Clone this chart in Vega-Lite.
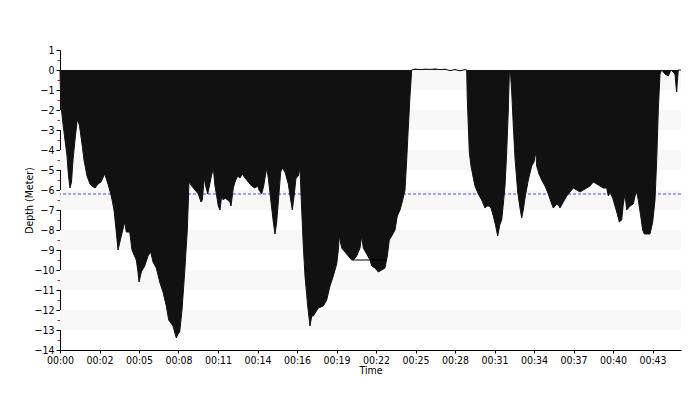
{
  "$schema": "https://vega.github.io/schema/vega-lite/v6.json",
  "width": 621,
  "height": 300,
  "autosize": {"type": "none"},
  "padding": {"left": 60, "top": 50, "right": 19, "bottom": 50},
  "background": "white",
  "config": {
    "view": {"stroke": null},
    "font": "DejaVu Sans Condensed",
    "axis": {
      "labelFont": "DejaVu Sans Condensed",
      "titleFont": "DejaVu Sans Condensed",
      "labelFontSize": 10.5,
      "titleFontSize": 10.5,
      "titleFontWeight": "normal",
      "labelColor": "#000",
      "titleColor": "#000",
      "grid": false
    }
  },
  "datasets": {
    "bands": [
      {"top": 0, "bottom": -1}, {"top": -2, "bottom": -3}, {"top": -4, "bottom": -5},
      {"top": -6, "bottom": -7}, {"top": -8, "bottom": -9}, {"top": -10, "bottom": -11},
      {"top": -12, "bottom": -13}
    ],
    "ceiling": [{"depth": -6.2}],
    "flat": [{"t": 293, "depth": -9.5}, {"t": 327, "depth": -9.5}],
    "profile": [
      {"t": 0, "depth": 0}, {"t": 0.5, "depth": -1.2}, {"t": 1.5, "depth": -2.0}, {"t": 3, "depth": -2.7},
      {"t": 5, "depth": -3.5}, {"t": 7, "depth": -4.3}, {"t": 8.5, "depth": -5.3}, {"t": 10, "depth": -5.9},
      {"t": 11.5, "depth": -5.6}, {"t": 13, "depth": -4.5}, {"t": 15, "depth": -3.5}, {"t": 17, "depth": -2.6},
      {"t": 18, "depth": -2.5}, {"t": 19.5, "depth": -2.8}, {"t": 22, "depth": -3.7}, {"t": 24, "depth": -4.5},
      {"t": 27, "depth": -5.3}, {"t": 30, "depth": -5.7}, {"t": 32, "depth": -5.8}, {"t": 35, "depth": -5.9},
      {"t": 38, "depth": -5.7}, {"t": 41, "depth": -5.6}, {"t": 44.7, "depth": -5.2}, {"t": 48, "depth": -5.7},
      {"t": 51.3, "depth": -6.3}, {"t": 54, "depth": -7.0}, {"t": 56.3, "depth": -8.1}, {"t": 58, "depth": -9.0},
      {"t": 61.3, "depth": -8.3}, {"t": 64.7, "depth": -7.6}, {"t": 66.3, "depth": -8.1}, {"t": 69.7, "depth": -8.1},
      {"t": 72, "depth": -9.0}, {"t": 76.3, "depth": -9.5}, {"t": 78, "depth": -10.1}, {"t": 79, "depth": -10.6},
      {"t": 81.3, "depth": -10.1}, {"t": 84.7, "depth": -9.8}, {"t": 88, "depth": -9.3}, {"t": 90.7, "depth": -9.1},
      {"t": 93, "depth": -9.6}, {"t": 96.3, "depth": -9.9}, {"t": 99.7, "depth": -10.6}, {"t": 103, "depth": -11.1},
      {"t": 106.3, "depth": -11.8}, {"t": 108.7, "depth": -12.5}, {"t": 113, "depth": -12.8}, {"t": 116.3, "depth": -13.4},
      {"t": 118, "depth": -13.2}, {"t": 119.7, "depth": -13.1}, {"t": 122, "depth": -12.0}, {"t": 124.7, "depth": -10.1},
      {"t": 127.3, "depth": -8.0}, {"t": 129, "depth": -5.6}, {"t": 131.7, "depth": -5.8}, {"t": 135, "depth": -6.0},
      {"t": 138.3, "depth": -6.2}, {"t": 141, "depth": -6.6}, {"t": 142.3, "depth": -6.5}, {"t": 144.3, "depth": -5.4},
      {"t": 145.7, "depth": -5.8}, {"t": 147.7, "depth": -6.2}, {"t": 149, "depth": -5.9}, {"t": 151, "depth": -5.4},
      {"t": 153.3, "depth": -4.9}, {"t": 155, "depth": -5.8}, {"t": 156.7, "depth": -6.3}, {"t": 158.3, "depth": -6.8},
      {"t": 160, "depth": -7.0}, {"t": 161.7, "depth": -6.3}, {"t": 163.3, "depth": -6.5}, {"t": 165, "depth": -6.4},
      {"t": 167.7, "depth": -6.5}, {"t": 170, "depth": -6.6}, {"t": 171, "depth": -6.8}, {"t": 173.3, "depth": -5.9},
      {"t": 175, "depth": -5.6}, {"t": 177.7, "depth": -5.3}, {"t": 180, "depth": -5.4}, {"t": 182.3, "depth": -5.2},
      {"t": 185, "depth": -5.4}, {"t": 188.3, "depth": -5.6}, {"t": 191.7, "depth": -5.8}, {"t": 195, "depth": -5.9},
      {"t": 197.7, "depth": -5.8}, {"t": 199, "depth": -6.0}, {"t": 201.7, "depth": -6.2}, {"t": 203.7, "depth": -5.8},
      {"t": 205, "depth": -5.4}, {"t": 206.7, "depth": -4.9}, {"t": 208.3, "depth": -5.4}, {"t": 211, "depth": -6.6},
      {"t": 213.3, "depth": -7.6}, {"t": 215, "depth": -8.2}, {"t": 216.7, "depth": -7.6}, {"t": 218.3, "depth": -6.6},
      {"t": 220.7, "depth": -5.1}, {"t": 222.3, "depth": -4.9}, {"t": 225, "depth": -5.1}, {"t": 228.3, "depth": -5.7},
      {"t": 231, "depth": -6.6}, {"t": 232.3, "depth": -7.0}, {"t": 234.3, "depth": -6.2}, {"t": 236, "depth": -5.4},
      {"t": 238.3, "depth": -5.3}, {"t": 240, "depth": -4.9}, {"t": 241.7, "depth": -7.0}, {"t": 243.3, "depth": -8.8},
      {"t": 245, "depth": -10.3}, {"t": 247.7, "depth": -11.8}, {"t": 250, "depth": -12.8}, {"t": 251.7, "depth": -12.3},
      {"t": 253.3, "depth": -12.3}, {"t": 258.3, "depth": -11.9}, {"t": 263.3, "depth": -11.8}, {"t": 266.7, "depth": -11.5},
      {"t": 270, "depth": -10.8}, {"t": 273.3, "depth": -10.3}, {"t": 276.7, "depth": -9.7}, {"t": 278.3, "depth": -9.0},
      {"t": 279.3, "depth": -8.3}, {"t": 281.7, "depth": -8.9}, {"t": 285, "depth": -9.1}, {"t": 288.3, "depth": -9.3},
      {"t": 291.7, "depth": -9.5}, {"t": 293.3, "depth": -9.5}, {"t": 296.7, "depth": -9.3}, {"t": 300, "depth": -8.9},
      {"t": 301.7, "depth": -8.3}, {"t": 303.3, "depth": -8.9}, {"t": 306.7, "depth": -9.2}, {"t": 310, "depth": -9.5},
      {"t": 311.7, "depth": -9.8}, {"t": 315, "depth": -9.9}, {"t": 318.3, "depth": -10.1}, {"t": 321.7, "depth": -10.0},
      {"t": 325, "depth": -9.9}, {"t": 327.3, "depth": -9.3}, {"t": 329.3, "depth": -8.5}, {"t": 331.7, "depth": -8.3},
      {"t": 335, "depth": -8.0}, {"t": 337.3, "depth": -7.3}, {"t": 340, "depth": -7.0}, {"t": 342.7, "depth": -6.5},
      {"t": 345, "depth": -6.0}, {"t": 346.7, "depth": -4.5}, {"t": 348.3, "depth": -2.9}, {"t": 350, "depth": -1.3},
      {"t": 351.7, "depth": 0}, {"t": 355, "depth": 0.05}, {"t": 360, "depth": 0.02}, {"t": 365, "depth": 0.04},
      {"t": 370, "depth": 0.03}, {"t": 375, "depth": 0.05}, {"t": 380, "depth": 0.02}, {"t": 385, "depth": 0.04},
      {"t": 390, "depth": -0.03}, {"t": 395, "depth": 0.02}, {"t": 400, "depth": -0.04}, {"t": 405, "depth": 0.02},
      {"t": 406.7, "depth": 0}, {"t": 407.3, "depth": -1.5}, {"t": 408, "depth": -2.4}, {"t": 409.3, "depth": -4.1},
      {"t": 411, "depth": -4.8}, {"t": 413.3, "depth": -5.4}, {"t": 415, "depth": -5.8}, {"t": 418.3, "depth": -6.2},
      {"t": 421.7, "depth": -6.5}, {"t": 425, "depth": -6.9}, {"t": 427, "depth": -6.8}, {"t": 429, "depth": -6.8},
      {"t": 431, "depth": -6.9}, {"t": 433.3, "depth": -7.3}, {"t": 435.7, "depth": -7.8}, {"t": 437.7, "depth": -8.3},
      {"t": 440, "depth": -7.7}, {"t": 441.7, "depth": -7.5}, {"t": 443.3, "depth": -6.7}, {"t": 445, "depth": -5.8},
      {"t": 446.7, "depth": -4.1}, {"t": 448.3, "depth": -2.0}, {"t": 449.3, "depth": -0.2}, {"t": 450.3, "depth": 0},
      {"t": 451.7, "depth": -1.1}, {"t": 453.3, "depth": -2.8}, {"t": 455, "depth": -4.4}, {"t": 457.7, "depth": -6.1},
      {"t": 460, "depth": -6.9}, {"t": 461.7, "depth": -7.4}, {"t": 463.3, "depth": -7.0}, {"t": 465, "depth": -6.4},
      {"t": 468.3, "depth": -5.5}, {"t": 471.7, "depth": -4.8}, {"t": 474, "depth": -4.6}, {"t": 475, "depth": -4.3},
      {"t": 476, "depth": -4.2}, {"t": 476.7, "depth": -4.8}, {"t": 479, "depth": -5.2}, {"t": 481.7, "depth": -5.5},
      {"t": 485, "depth": -5.8}, {"t": 488.3, "depth": -6.2}, {"t": 491.7, "depth": -6.7}, {"t": 493.3, "depth": -6.9},
      {"t": 496.7, "depth": -6.7}, {"t": 499, "depth": -6.8}, {"t": 500, "depth": -6.9}, {"t": 503.3, "depth": -6.6},
      {"t": 506.7, "depth": -6.3}, {"t": 510, "depth": -6.1}, {"t": 513.3, "depth": -5.9}, {"t": 516.7, "depth": -6.0},
      {"t": 520, "depth": -6.1}, {"t": 523.3, "depth": -6.0}, {"t": 526.7, "depth": -5.9}, {"t": 530, "depth": -5.8},
      {"t": 533.3, "depth": -5.6}, {"t": 536.7, "depth": -5.7}, {"t": 540, "depth": -5.8}, {"t": 543.3, "depth": -5.9},
      {"t": 546.7, "depth": -5.9}, {"t": 548.3, "depth": -6.3}, {"t": 550, "depth": -6.1}, {"t": 552.7, "depth": -6.4},
      {"t": 555, "depth": -6.8}, {"t": 557.3, "depth": -7.2}, {"t": 559.3, "depth": -7.6}, {"t": 561.7, "depth": -7.5},
      {"t": 563.3, "depth": -6.7}, {"t": 565, "depth": -6.2}, {"t": 566.7, "depth": -7.0}, {"t": 570, "depth": -6.8},
      {"t": 573.3, "depth": -6.7}, {"t": 575, "depth": -6.3}, {"t": 576.7, "depth": -6.1}, {"t": 578.3, "depth": -6.5},
      {"t": 580.7, "depth": -7.3}, {"t": 582.7, "depth": -8.0}, {"t": 584.3, "depth": -8.2}, {"t": 587.3, "depth": -8.2},
      {"t": 590, "depth": -8.2}, {"t": 592.7, "depth": -7.6}, {"t": 595, "depth": -6.5}, {"t": 596.7, "depth": -4.5},
      {"t": 598.3, "depth": -2.0}, {"t": 600, "depth": -0.2}, {"t": 601.7, "depth": 0}, {"t": 605, "depth": -0.2},
      {"t": 608.3, "depth": -0.3}, {"t": 611, "depth": 0}, {"t": 615, "depth": -0.2}, {"t": 616, "depth": -0.8},
      {"t": 616.7, "depth": -1.1}, {"t": 617.3, "depth": -0.6}, {"t": 618.3, "depth": 0}, {"t": 621, "depth": 0}
    ]
  },
  "layer": [
    {
      "data": {"name": "bands"},
      "mark": {"type": "rect", "color": "#f8f8f8", "opacity": 1},
      "encoding": {
        "y": {
          "field": "top", "type": "quantitative",
          "scale": {"domain": [-14, 1], "nice": false, "zero": false},
          "axis": {
            "orient": "left",
            "values": [0.5, -0.5, -1.5, -2.5, -3.5, -4.5, -5.5, -6.5, -7.5, -8.5, -9.5, -10.5, -11.5, -12.5, -13.5],
            "labels": false, "domain": false, "tickColor": "#ff0000", "tickSize": 3, "title": null
          }
        },
        "y2": {"field": "bottom"}
      }
    },
    {
      "data": {"name": "ceiling"},
      "mark": {"type": "rule", "color": "#4848ff", "strokeWidth": 1, "strokeDash": [3, 2]},
      "encoding": {
        "y": {"field": "depth", "type": "quantitative", "scale": {"domain": [-14, 1], "nice": false, "zero": false}, "axis": null}
      }
    },
    {
      "data": {"name": "profile"},
      "mark": {"type": "area", "color": "#111111", "opacity": 1, "fillOpacity": 1, "line": {"color": "#111111", "strokeWidth": 1}},
      "encoding": {
        "x": {
          "field": "t", "type": "quantitative",
          "scale": {"domain": [0, 621], "nice": false, "zero": false},
          "axis": {
            "values": [0, 39.5, 79, 118.5, 158, 197.5, 237, 276.5, 316, 355.5, 395, 434.5, 474, 513.5, 553, 592.5],
            "labelExpr": "['00:00','00:02','00:05','00:08','00:11','00:14','00:16','00:19','00:22','00:25','00:28','00:31','00:34','00:37','00:40','00:43'][round(datum.value / 39.5)]",
            "title": "Time", "titlePadding": 0, "labelPadding": 2, "tickSize": 3,
            "tickColor": "#000", "domainColor": "#000", "labelFlush": false, "labelOverlap": false
          }
        },
        "y": {
          "field": "depth", "type": "quantitative",
          "scale": {"domain": [-14, 1], "nice": false, "zero": false},
          "axis": {
            "orient": "left",
            "values": [1, 0, -1, -2, -3, -4, -5, -6, -7, -8, -9, -10, -11, -12, -13, -14],
            "title": "Depth (Meter)", "titlePadding": 0, "labelPadding": 2, "tickSize": 4,
            "tickColor": "#000", "domainColor": "#000", "labelOverlap": false
          }
        }
      }
    },
    {
      "data": {"name": "flat"},
      "mark": {"type": "line", "color": "#000000", "strokeWidth": 1},
      "encoding": {
        "x": {
          "field": "t", "type": "quantitative",
          "scale": {"domain": [0, 621], "nice": false, "zero": false}
        },
        "y": {"field": "depth", "type": "quantitative", "scale": {"domain": [-14, 1], "nice": false, "zero": false}, "axis": null}
      }
    }
  ],
  "resolve": {"axis": {"y": "independent"}}
}
